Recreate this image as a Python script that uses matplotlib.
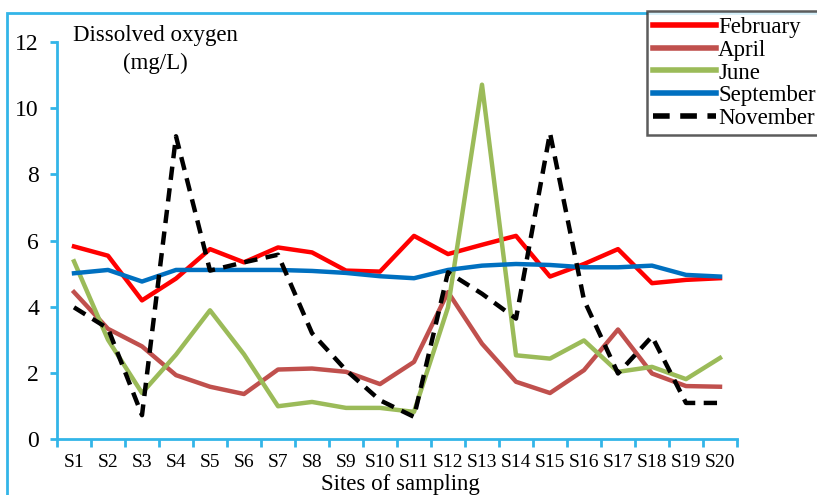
import matplotlib
matplotlib.use("Agg")
import matplotlib.pyplot as plt
from matplotlib.patches import Rectangle

sites = [f"S{i}" for i in range(1, 21)]
february = [5.82, 5.54, 4.19, 4.85, 5.74, 5.34, 5.79, 5.64, 5.09, 5.06, 6.14, 5.59, 5.87, 6.14, 4.91, 5.29, 5.74, 4.71, 4.81, 4.86]
april = [4.44, 3.33, 2.80, 1.93, 1.58, 1.36, 2.10, 2.13, 2.03, 1.66, 2.33, 4.44, 2.88, 1.73, 1.39, 2.08, 3.31, 1.98, 1.60, 1.58]
june = [5.37, 3.0, 1.39, 2.55, 3.89, 2.56, 0.99, 1.12, 0.94, 0.94, 0.82, 3.98, 10.71, 2.53, 2.43, 2.98, 2.03, 2.18, 1.81, 2.45]
september = [5.01, 5.11, 4.76, 5.11, 5.11, 5.11, 5.11, 5.08, 5.02, 4.92, 4.86, 5.11, 5.24, 5.29, 5.26, 5.19, 5.19, 5.24, 4.96, 4.91]
november = [3.98, 3.34, 0.72, 9.15, 5.09, 5.34, 5.57, 3.2, 2.08, 1.17, 0.67, 5.04, 4.39, 3.64, 9.25, 4.2, 1.98, 3.10, 1.09, 1.09]

W, H = 817, 495
fig = plt.figure(figsize=(W / 100, H / 100), dpi=100)
blue = "#33B5E8"
serif = "Liberation Serif"

# outer frame
fig.patches.append(Rectangle((7 / W, -0.1), 1.2, (H - 13) / H + 0.1, transform=fig.transFigure,
                             fill=False, edgecolor=blue, linewidth=2.0, zorder=0))

ax = fig.add_axes([57 / W, (H - 439) / H, 680 / W, 397 / H])
x = list(range(1, 21))
ax.plot(x, february, color="#FF0000", lw=3.2, label="February", zorder=3)
ax.plot(x, april, color="#C0504D", lw=3.2, label="April", zorder=3)
ax.plot(x, june, color="#9BBB59", lw=3.2, label="June", zorder=3)
ax.plot(x, september, color="#0070C0", lw=3.2, label="September", zorder=3)
ax.plot(x, november, color="black", lw=3.2, ls=(0, (3.0, 1.9)), label="November", zorder=4)

ax.set_xlim(0.5, 20.5)
ax.set_ylim(0, 12)
ax.set_yticks([0, 2, 4, 6, 8, 10, 12])
ax.set_xticks(x)
ax.set_xticklabels(sites)
ax.set_xticks([i + 0.5 for i in range(0, 21)], minor=True)
for s in ["top", "right"]:
    ax.spines[s].set_visible(False)
for s in ["left", "bottom"]:
    ax.spines[s].set_color(blue)
    ax.spines[s].set_linewidth(2)
ax.tick_params(axis="x", which="major", length=0, pad=11)
ax.tick_params(axis="x", which="minor", length=6, width=2, color=blue, direction="out")
ax.tick_params(axis="y", length=5, width=2, color=blue, direction="out", pad=8)
for lab in ax.get_yticklabels():
    lab.set_fontfamily(serif)
    lab.set_fontsize(17)
for lab in ax.get_xticklabels():
    lab.set_fontfamily(serif)
    lab.set_fontsize(14)
ax.patch.set_alpha(0)

fig.text(155 / W, 1 - 35 / H, "Dissolved oxygen", fontfamily=serif, fontsize=16.5, ha="center", va="center")
fig.text(155 / W, 1 - 63 / H, "(mg/L)", fontfamily=serif, fontsize=16.5, ha="center", va="center")
fig.text(400 / W, 1 - 490 / H, "Sites of sampling", fontfamily=serif, fontsize=16.5, ha="center", va="baseline")

leg = fig.legend(loc="upper left", bbox_to_anchor=(647 / W, 1 - 11 / H), prop={"family": serif, "size": 16.5},
                 handlelength=2.75, handletextpad=0.1, labelspacing=0.08, borderpad=0.25, borderaxespad=0,
                 frameon=True, fancybox=False)
leg.get_frame().set_edgecolor("#333333")
leg.get_frame().set_linewidth(1.8)
for line in leg.get_lines():
    line.set_linewidth(4)

fig.savefig("out.png", dpi=100)
